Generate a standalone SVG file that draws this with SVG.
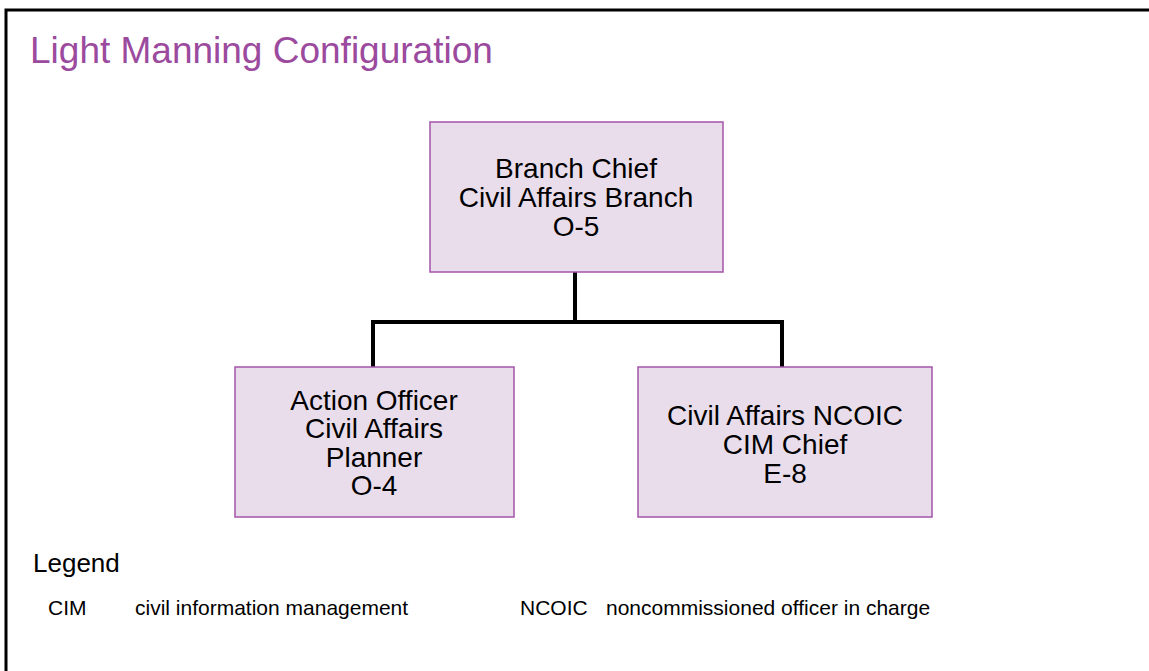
<svg xmlns="http://www.w3.org/2000/svg" width="1149" height="671" viewBox="0 0 1149 671">
  <style>
    .frame { fill: #ffffff; stroke: #000000; stroke-width: 3; }
    .box { fill: #E9DDEC; stroke: #A453A8; stroke-width: 1.5; }
    .lbl { font-family: "Liberation Sans", Arial, sans-serif; font-size: 28px; fill: #000000; text-anchor: middle; }
    .title { font-family: "Liberation Sans", Arial, sans-serif; font-size: 37px; fill: #9B4A9E; }
    .legend { font-family: "Liberation Sans", Arial, sans-serif; font-size: 26px; fill: #000000; }
    .leg { font-family: "Liberation Sans", Arial, sans-serif; font-size: 21px; fill: #000000; }
    .conn { fill: none; stroke: #000000; stroke-width: 4; }
  </style>
  <rect x="0" y="0" width="1149" height="671" fill="#ffffff"/>
  <rect class="frame" x="6" y="10" width="1200" height="720"/>
  <text id="title" class="title" x="30" y="63">Light Manning Configuration</text>

  <g id="connectors">
    <path class="conn" d="M575 272 V322"/>
    <path class="conn" d="M373 367 V322 H782 V367"/>
  </g>

  <g id="node-branch-chief">
    <rect class="box" x="430" y="122" width="293" height="150"/>
    <text class="lbl" x="576" y="178">Branch Chief</text>
    <text class="lbl" x="576" y="207">Civil Affairs Branch</text>
    <text class="lbl" x="576" y="236">O-5</text>
  </g>

  <g id="node-action-officer">
    <rect class="box" x="235" y="367" width="279" height="150"/>
    <text class="lbl" x="374" y="410">Action Officer</text>
    <text class="lbl" x="374" y="438">Civil Affairs</text>
    <text class="lbl" x="374" y="467">Planner</text>
    <text class="lbl" x="374" y="495">O-4</text>
  </g>

  <g id="node-ncoic">
    <rect class="box" x="638" y="367" width="294" height="150"/>
    <text class="lbl" x="785" y="425">Civil Affairs NCOIC</text>
    <text class="lbl" x="785" y="454">CIM Chief</text>
    <text class="lbl" x="785" y="483">E-8</text>
  </g>

  <g id="legend">
    <text class="legend" x="33" y="572">Legend</text>
    <text class="leg" x="48" y="615">CIM</text>
    <text class="leg" x="135" y="615">civil information management</text>
    <text class="leg" x="520" y="615">NCOIC</text>
    <text class="leg" x="606" y="615">noncommissioned officer in charge</text>
  </g>
</svg>
